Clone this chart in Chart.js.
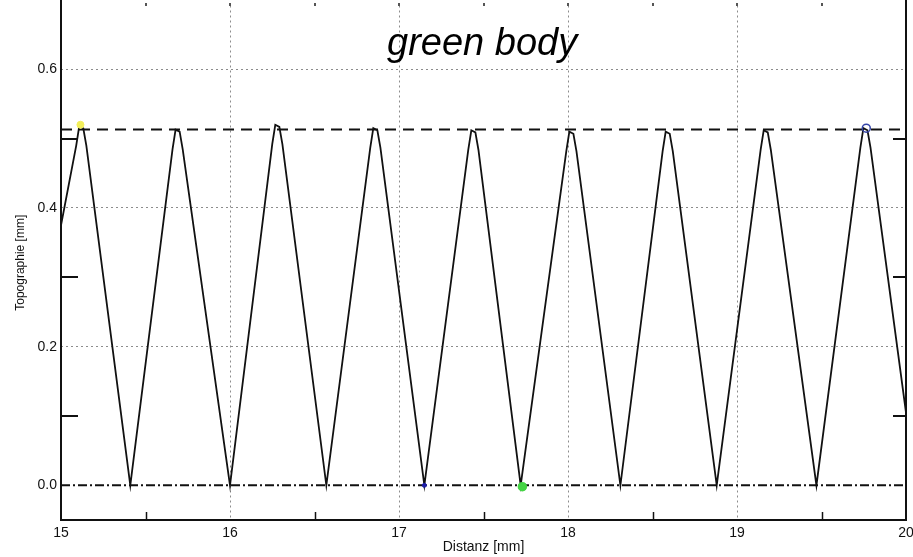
<!DOCTYPE html>
<html>
<head>
<meta charset="utf-8">
<script src="https://cdn.jsdelivr.net/npm/chart.js@4/dist/chart.umd.min.js"></script>
<style>
  body { margin: 0; background: #fff; }
  canvas { display: block; }
</style>
</head>
<body>
<canvas id="myChart" width="913" height="557"></canvas>
<script>
// profile trace (distance in mm, height in mm)
const distX = [
  15.00, 15.09, 15.108, 15.132, 15.15,
  15.41, 15.66, 15.678, 15.702, 15.72,
  16.00, 16.25, 16.268, 16.292, 16.31,
  16.57, 16.83, 16.848, 16.872, 16.89,
  17.15, 17.41, 17.428, 17.452, 17.47,
  17.72, 17.99, 18.008, 18.032, 18.05,
  18.31, 18.56, 18.578, 18.602, 18.62,
  18.88, 19.14, 19.158, 19.182, 19.20,
  19.47, 19.73, 19.748, 19.772, 19.79,
  20.00
];
const topoY = [
  0.375, 0.490, 0.518, 0.515, 0.490,
  0.000, 0.485, 0.513, 0.510, 0.485,
  0.000, 0.492, 0.520, 0.517, 0.492,
  0.000, 0.487, 0.515, 0.512, 0.487,
  0.000, 0.484, 0.512, 0.509, 0.484,
  0.000, 0.482, 0.510, 0.507, 0.482,
  0.000, 0.482, 0.510, 0.507, 0.482,
  0.000, 0.484, 0.512, 0.509, 0.484,
  0.000, 0.487, 0.515, 0.512, 0.487,
  0.105
];

// reference levels (dashed lines)
const peakLevel = 0.513;
const baseLevel = 0.0;

// coloured marks on the trace
const markX = [15.115, 17.15, 17.73, 19.765];
const markY = [0.520, 0.000, -0.002, 0.515];
const markColors = ['#f2ee5a', '#1f1fa8', '#45d445', '#3444a8'];

// axis ticks
const xTicks = [15, 16, 17, 18, 19, 20];
const yTicks = [0.0, 0.2, 0.4, 0.6];
const xMinor = [15.5, 16.5, 17.5, 18.5, 19.5];
const xTopMarks = [15.5, 16, 16.5, 17, 17.5, 18, 18.5, 19, 19.5];
const yMinor = [0.1, 0.3, 0.5];

const profileData = distX.map((x, i) => ({ x: x, y: topoY[i] }));
const markData = markX.map((x, i) => ({ x: x, y: markY[i] }));

const gridColor = '#8c8c8c';
const noLine = 'rgba(0,0,0,0)';
const fontFamily = '"Liberation Sans", Arial, sans-serif';

const framePlugin = {
  id: 'frame',
  afterDraw(chart) {
    const { ctx, chartArea, scales } = chart;
    const { left, right, bottom } = chartArea;
    ctx.save();
    ctx.strokeStyle = '#111';
    ctx.lineWidth = 2;
    ctx.beginPath();
    ctx.moveTo(left, 0);
    ctx.lineTo(left, bottom);
    ctx.lineTo(right, bottom);
    ctx.lineTo(right, 0);
    ctx.stroke();

    // minor ticks
    ctx.lineWidth = 1.5;
    xMinor.forEach(v => {
      const px = Math.round(scales.x.getPixelForValue(v)) + 0.5;
      ctx.beginPath();
      ctx.moveTo(px, bottom);
      ctx.lineTo(px, bottom - 8);
      ctx.stroke();
    });
    ctx.fillStyle = '#555';
    xTopMarks.forEach(v => {
      const px = Math.round(scales.x.getPixelForValue(v));
      ctx.fillRect(px - 1, 3, 2, 3);
    });
    ctx.lineWidth = 2;
    yMinor.forEach(v => {
      const py = Math.round(scales.y.getPixelForValue(v));
      ctx.beginPath();
      ctx.moveTo(left, py);
      ctx.lineTo(left + 17, py);
      ctx.moveTo(right - 13, py);
      ctx.lineTo(right, py);
      ctx.stroke();
    });

    // title inside the plot
    ctx.fillStyle = '#000';
    ctx.font = 'italic 38px ' + fontFamily;
    ctx.textBaseline = 'alphabetic';
    ctx.textAlign = 'left';
    ctx.fillText('green body', 387, 55);
    ctx.restore();
  }
};

const ctx = document.getElementById('myChart').getContext('2d');
const myChart = new Chart(ctx, {
  type: 'line',
  data: {
    datasets: [
      {
        label: 'marks',
        type: 'scatter',
        data: markData,
        pointRadius: [3.5, 2, 4, 4],
        pointBackgroundColor: ['#f2ee5a', '#1f1fa8', '#45d445', 'rgba(255,255,255,0)'],
        pointBorderColor: markColors,
        pointBorderWidth: [1, 1, 1.5, 1.5],
        order: 0
      },
      {
        label: 'profile',
        data: profileData,
        borderColor: '#111',
        borderWidth: 1.8,
        pointRadius: 0,
        tension: 0,
        order: 1
      },
      {
        label: 'peak level',
        data: [{ x: 15, y: peakLevel }, { x: 20, y: peakLevel }],
        borderColor: '#111',
        borderWidth: 2,
        borderDash: [11, 7],
        pointRadius: 0,
        order: 2
      },
      {
        label: 'base level',
        data: [{ x: 15, y: baseLevel }, { x: 20, y: baseLevel }],
        borderColor: '#111',
        borderWidth: 2,
        borderDash: [9, 3, 2, 3],
        pointRadius: 0,
        order: 2
      }
    ]
  },
  options: {
    responsive: false,
    animation: false,
    layout: { padding: { top: 0, right: 7, left: 0, bottom: 0 } },
    plugins: {
      legend: { display: false },
      tooltip: { enabled: false }
    },
    scales: {
      x: {
        type: 'linear',
        min: 15,
        max: 20,
        afterBuildTicks: s => { s.ticks = xTicks.map(v => ({ value: v })); },
        afterFit: s => {
          s.height = 37;
          s.paddingLeft = 0;
          s.paddingRight = 0;
        },
        ticks: {
          font: { family: fontFamily, size: 14 },
          color: '#111',
          padding: 5,
          maxRotation: 0,
          callback: v => String(v)
        },
        grid: {
          drawTicks: false,
          lineWidth: 1,
          color: c => (c.tick && (c.tick.value === 15 || c.tick.value === 20)) ? noLine : gridColor
        },
        border: { display: false, dash: [2, 3] },
        title: {
          display: true,
          text: 'Distanz [mm]',
          color: '#111',
          font: { family: fontFamily, size: 14 },
          padding: { top: 1, bottom: 1 }
        }
      },
      y: {
        type: 'linear',
        min: -0.05,
        max: 0.692,
        afterBuildTicks: s => { s.ticks = yTicks.map(v => ({ value: v })); },
        afterFit: s => {
          s.width = 61;
          s.paddingTop = 0;
          s.paddingBottom = 0;
        },
        ticks: {
          font: { family: fontFamily, size: 14 },
          color: '#111',
          padding: 4,
          callback: v => Number(v).toFixed(1)
        },
        grid: {
          drawTicks: false,
          lineWidth: 1,
          color: c => (c.tick && c.tick.value === 0) ? noLine : gridColor
        },
        border: { display: false, dash: [2, 3] },
        title: {
          display: true,
          text: 'Topographie [mm]',
          color: '#111',
          font: { family: fontFamily, size: 12 },
          padding: { top: 13, bottom: 13 }
        }
      }
    }
  },
  plugins: [framePlugin]
});
</script>
</body>
</html>
